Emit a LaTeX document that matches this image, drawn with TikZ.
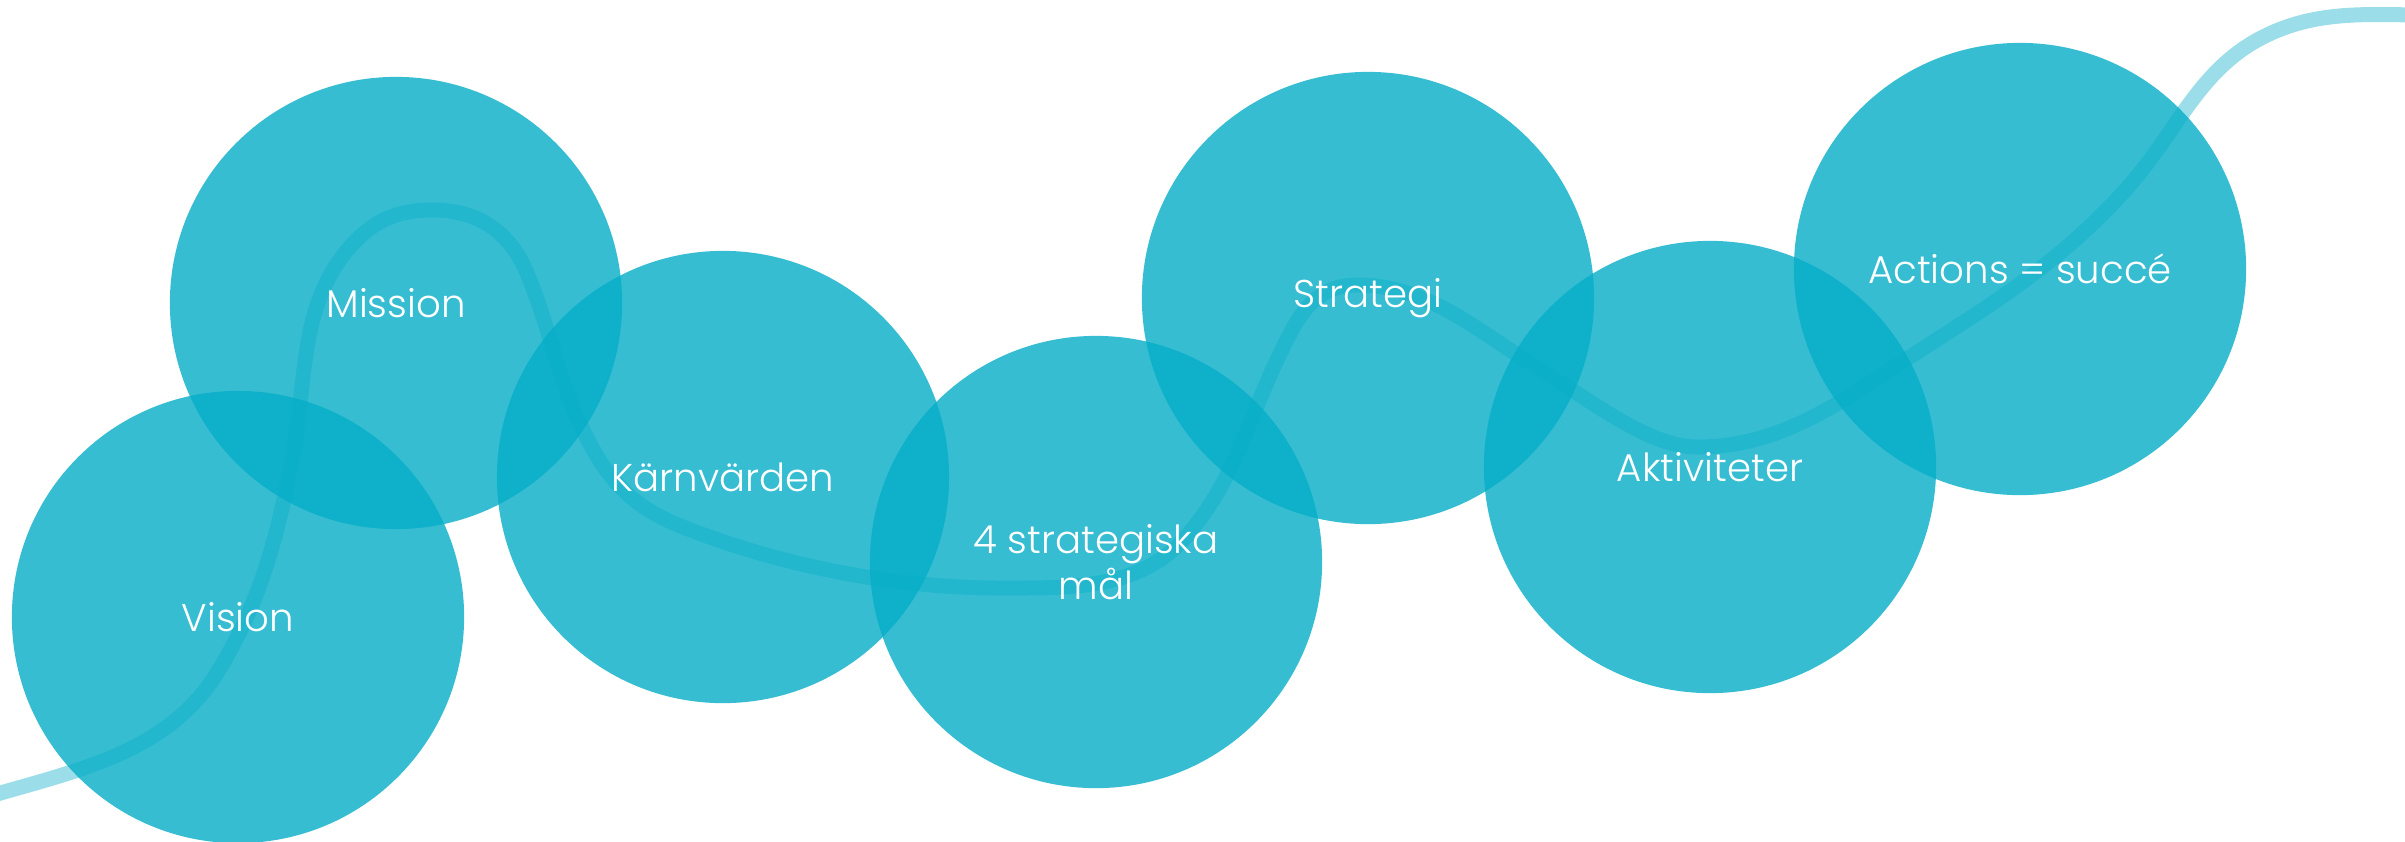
\documentclass[tikz,border=0pt]{standalone}
\usepackage{fontspec}
\setmainfont{Poppins Light}
\usetikzlibrary{positioning}
\definecolor{lagoon}{RGB}{5,173,199}

\begin{document}
\begin{tikzpicture}[
    x=0.01cm, y=-0.01cm,
    bubble/.style={circle, fill=lagoon, fill opacity=0.8, text opacity=1, text=white, minimum size=4.52cm, inner sep=0pt, align=center, font=\fontsize{11}{13}\selectfont},
    wave/.style={draw=lagoon, draw opacity=0.4, line width=0.15cm}
]
\useasboundingbox (0,0) rectangle (2405,841);

% the path behind the circles
\draw[wave] (-10,796) .. controls (79,770) and (168,752) .. (217,673)
    .. controls (261,602) and (278,535) .. (293,454)
    .. controls (307,379) and (299,305) .. (350,247)
    .. controls (374,220) and (397,210) .. (433,210)
    .. controls (478,210) and (510,232) .. (527,273)
    .. controls (550,328) and (557,376) .. (583,430)
    .. controls (607,480) and (632,507) .. (683,527)
    .. controls (771,562) and (885,588) .. (1000,588)
    .. controls (1068,588) and (1137,590) .. (1183,540)
    .. controls (1232,486) and (1246,426) .. (1277,360)
    .. controls (1296,320) and (1312,285) .. (1357,285)
    .. controls (1425,285) and (1473,327) .. (1530,363)
    .. controls (1600,407) and (1650,447) .. (1698,447)
    .. controls (1783,447) and (1845,399) .. (1916,353)
    .. controls (1997,301) and (2063,260) .. (2128,187)
    .. controls (2177,132) and (2198,70) .. (2263,37)
    .. controls (2312,12) and (2360,14) .. (2415,15);

\node[bubble] (vision) at (238,617) {Vision};
\node[bubble] (mission) at (396,303) {Mission};
\node[bubble] (karnvarden) at (723,477) {Kärnvärden};
\node[bubble] (strategiska) at (1096,562) {4 strategiska\\mål};
\node[bubble] (strategi) at (1368,298) {Strategi};
\node[bubble] (aktiviteter) at (1710,467) {Aktiviteter};
\node[bubble] (actions) at (2020,269) {Actions = succé};

\end{tikzpicture}
\end{document}
